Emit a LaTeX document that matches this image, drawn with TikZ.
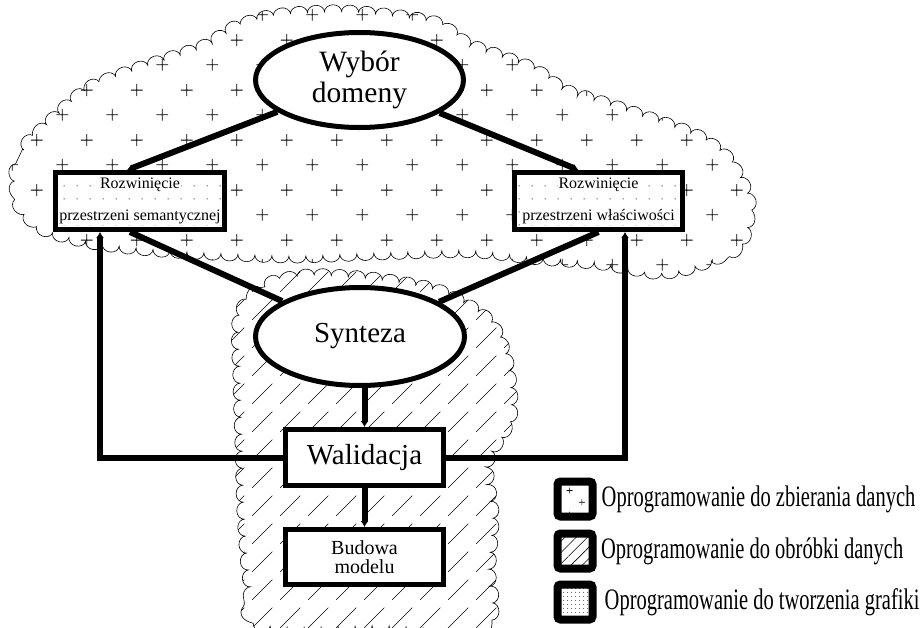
\documentclass[tikz,border=0pt]{standalone}
\usepackage{fontspec}
\setmainfont{Liberation Serif}
\usetikzlibrary{arrows.meta}
\usetikzlibrary{positioning}
\usetikzlibrary{shapes.geometric}
\usetikzlibrary{decorations.pathmorphing}
\usetikzlibrary{patterns.meta}

\tikzdeclarepattern{
	name=pluses,
	bounding box={(0pt,0pt) and (50pt,50pt)},
	tile size={(50pt,50pt)},
	code={
		\draw[line width=0.8pt] (6.5pt,12.5pt) -- (18.5pt,12.5pt) (12.5pt,6.5pt) -- (12.5pt,18.5pt);
		\draw[line width=0.8pt] (31.5pt,37.5pt) -- (43.5pt,37.5pt) (37.5pt,31.5pt) -- (37.5pt,43.5pt);
	}
}
\tikzdeclarepattern{
	name=smallpluses,
	bounding box={(0pt,0pt) and (24pt,24pt)},
	tile size={(24pt,24pt)},
	code={
		\draw[line width=0.7pt] (3pt,6pt) -- (9pt,6pt) (6pt,3pt) -- (6pt,9pt);
		\draw[line width=0.7pt] (15pt,18pt) -- (21pt,18pt) (18pt,15pt) -- (18pt,21pt);
	}
}
\tikzdeclarepattern{
	name=brokenhatch,
	bounding box={(0pt,0pt) and (28pt,28pt)},
	tile size={(28pt,28pt)},
	code={
		\draw[line width=0.7pt] (0pt,0pt) -- (21pt,21pt);
	}
}
\newcommand{\whiteline}[1]{{\setlength{\fboxsep}{1pt}\colorbox{white}{#1}}}
\newcommand{\legtxt}[1]{\scalebox{1}[1.45]{#1}}

\begin{document}
\begin{tikzpicture}[x=1pt,y=-1pt,>/.tip={Latex[length=6pt,width=8pt]},
	oval/.style={ellipse,draw,line width=5pt,fill=white,inner sep=0pt,align=center},
	block/.style={rectangle,draw,line width=5pt,fill=white,inner sep=0pt,align=center},
	dotblock/.style={rectangle,draw,line width=5pt,inner sep=0pt,align=center,
		preaction={fill=white},pattern={Dots[distance=13pt,radius=0.6pt]}},
	link/.style={line width=6pt},
	cloud/.style={decorate,decoration={bumps,segment length=34pt,amplitude=7pt},line width=0.6pt},
	legbox/.style={rectangle,draw,line width=8pt,rounded corners=3pt,minimum size=35pt,
		preaction={fill=white}},
	legtext/.style={inner sep=0pt,font=\fontsize{20.5}{24}\selectfont}]
\useasboundingbox (0,0) rectangle (924,627);

% zones
\draw[cloud,pattern=pluses] plot[smooth cycle] coordinates {
	(16,178) (24,150) (47,125) (87,90) (135,70) (200,48) (235,28) (275,16)
	(345,12) (430,22) (470,45) (530,68) (565,90) (615,107) (665,124) (700,138)
	(728,160) (748,200) (740,243) (700,264) (660,272) (600,263) (540,258) (470,251)
	(380,253) (300,256) (230,254) (160,250) (97,243) (47,230) (22,208)};
\draw[cloud,pattern=brokenhatch] plot[smooth cycle] coordinates {
	(240,318) (265,287) (310,276) (380,280) (440,292) (487,320) (506,360) (510,415)
	(488,462) (492,515) (489,565) (484,624) (380,626) (262,624) (250,585) (244,515)
	(242,450) (240,385)};

% steps
\draw (359.5,80) node[oval,minimum width=208pt,minimum height=95pt,
	font=\fontsize{29.5}{31}\selectfont] (wybor) {Wybór\\domeny};
\draw (140,201) node[dotblock,minimum width=169pt,minimum height=57pt,
	font=\fontsize{16}{32}\selectfont] (rozsem) {\whiteline{Rozwinięcie}\\\whiteline{przestrzeni semantycznej}};
\draw (598.5,201) node[dotblock,minimum width=168pt,minimum height=57pt,
	font=\fontsize{16}{32}\selectfont] (rozwl) {\whiteline{Rozwinięcie}\\\whiteline{przestrzeni właściwości}};
\draw (360,336.5) node[oval,minimum width=209pt,minimum height=98pt,
	font=\fontsize{29}{31}\selectfont] (synteza) {Synteza};
\draw (364.5,457.5) node[block,minimum width=158pt,minimum height=56pt,
	font=\fontsize{29}{31}\selectfont] (walid) {Walidacja};
\draw (364.5,557) node[block,minimum width=158pt,minimum height=55pt,
	font=\fontsize{20}{19.5}\selectfont] (budowa) {Budowa\\modelu};

\draw[link,->] (wybor) -- ([xshift=-13pt]rozsem.north);
\draw[link,->] (wybor) -- ([xshift=-20pt]rozwl.north);
\draw[link] ([xshift=-10pt]rozsem.south) -- (synteza);
\draw[link] (rozwl.south) -- (synteza);
\draw[link,->] (synteza.south -| walid.north) -- (walid.north);
\draw[link,->] (walid) -- (budowa);
\draw[link,->] (walid.west) -| ([xshift=-40pt]rozsem.south);
\draw[link,->] (walid.east) -| ([xshift=26.5pt]rozwl.south);

% legend
\node[legbox,pattern=smallpluses] (leg1) at (575,499) {};
\node[legbox,pattern={Lines[angle=45,distance=8pt,line width=0.6pt]}] (leg2) at (575,551) {};
\node[legbox,pattern={Dots[distance=4pt,radius=0.5pt]}] (leg3) at (575,602) {};
\node[legtext,right=5pt of leg1] (txt1) {\legtxt{Oprogramowanie do zbierania danych}};
\node[legtext,right=8pt of leg2] (txt2) {\legtxt{Oprogramowanie do obróbki danych}};
\node[legtext,right=8pt of leg3] (txt3) {\legtxt{Oprogramowanie do tworzenia grafiki}};
\end{tikzpicture}
\end{document}
